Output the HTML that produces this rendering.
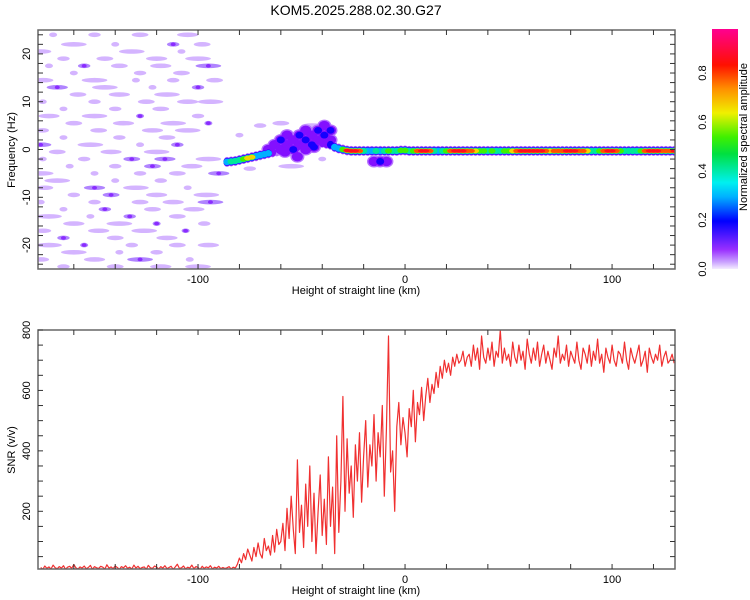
<!DOCTYPE html>
<html><head><meta charset="utf-8"><style>
html,body{margin:0;padding:0;background:#fff;}
svg{display:block;font-family:"Liberation Sans",sans-serif;}
</style></head><body>
<svg id="c" width="750" height="600">
<defs>
<clipPath id="cp1"><rect x="38" y="30" width="637" height="239"/></clipPath>
<clipPath id="cp2"><rect x="38" y="330" width="637" height="239"/></clipPath>
<linearGradient id="cbg" x1="0" y1="1" x2="0" y2="0">
<stop offset="0" stop-color="#f4ecff"/><stop offset="0.03" stop-color="#c9a0ff"/>
<stop offset="0.08" stop-color="#9a30ff"/><stop offset="0.2" stop-color="#0000ff"/>
<stop offset="0.3" stop-color="#00b0ff"/><stop offset="0.36" stop-color="#00f0f0"/>
<stop offset="0.48" stop-color="#00e040"/><stop offset="0.55" stop-color="#40f000"/>
<stop offset="0.65" stop-color="#f0f000"/><stop offset="0.75" stop-color="#ff9000"/>
<stop offset="0.85" stop-color="#ff1000"/><stop offset="1" stop-color="#ff0090"/>
</linearGradient>
</defs>
<text x="356" y="15" font-size="14" text-anchor="middle">KOM5.2025.288.02.30.G27</text>
<g id="topPanel"></g>
<g id="botPanel"></g>
<g id="cbarPanel"></g>
</svg>
<script>
// ---- data ----
const xMin = -177.3, xMax = 130.4;
const hzMin = -25, hzMax = 25;
const snrMin = 9, snrMax = 800;
const xTickLabels = [-100, 0, 100];
const hzTickLabels = [-20, -10, 0, 10, 20];
const snrTickLabels = [200, 400, 600, 800];
const cbTickLabels = [0.0, 0.2, 0.4, 0.6, 0.8];

const snrStartKm = -176, snrStepKm = 1;
const snrValues = [
14,8,19,11,16,9,22,13,10,17,12,20,8,15,18,11,24,13,9,16,12,19,10,14,21,8,17,13,11,18,
15,9,23,12,16,10,19,14,8,17,13,20,11,15,9,22,12,18,10,14,16,8,21,13,11,19,15,9,17,12,
20,10,14,18,8,16,25,11,13,19,9,15,12,22,10,17,14,8,18,11,16,13,20,9,15,12,18,10,14,11,
13,17,9,15,12,
25,45,30,60,40,75,55,35,80,50,95,60,45,110,70,85,55,120,65,140,90,100,
160,70,210,110,250,140,60,370,130,220,80,290,150,350,100,260,60,200,320,120,240,90,380,150,280,60,450,130,300,580,
200,440,260,350,180,420,300,460,230,380,500,280,420,350,520,300,460,380,550,250,470,780,330,400,200,480,560,420,510,
460,380,540,480,600,430,560,520,610,500,580,640,560,620,590,660,610,680,640,700,660,690,650,710,680,720,690,700,730,680,710,
720,680,750,700,740,670,780,710,690,740,
700,760,680,730,710,800,690,740,700,720,
680,760,710,690,750,700,730,670,770,720,
690,740,700,760,680,720,750,690,730,700,
670,740,710,780,690,720,700,750,680,730,
710,690,760,700,670,740,720,690,750,680,
730,700,770,690,720,660,740,710,690,750,
700,680,730,720,690,760,700,670,740,710,
690,720,750,680,700,730,660,740,710,690,
720,700,750,680,710,730,690,700,720,690
];

const trackStartKm = -86, trackStepKm = 2;
const trackHz = [
-2.6,-2.5,-2.4,-2.2,-2.0,-1.8,-1.6,-1.4,-1.2,-1.0,-0.8,
-0.6,-0.4,-0.2,0,0.2,0.4,0.6,0.8,1,1.2,1.4,1.6,1.4,1.2,1,
0.5,0.2,0,-0.2,
-0.3,-0.3,-0.3,-0.3,-0.3,-0.3,-0.3,-0.3,-0.3,-0.3,-0.3,-0.3,-0.2,-0.2,
-0.3,-0.3,-0.3,-0.3,-0.3,-0.3,-0.3,-0.3,-0.3,-0.3,
-0.3,-0.3,-0.3,-0.3,-0.3,-0.3,-0.3,-0.3,-0.3,-0.3,
-0.3,-0.3,-0.3,-0.3,-0.3,-0.3,-0.3,-0.3,-0.3,-0.3,
-0.3,-0.3,-0.3,-0.3,-0.3,-0.3,-0.3,-0.3,-0.3,-0.3,
-0.3,-0.3,-0.3,-0.3,-0.3,-0.3,-0.3,-0.3,-0.3,-0.3,
-0.3,-0.3,-0.3,-0.3,-0.3,-0.3,-0.3,-0.3,-0.3,-0.3,
-0.3,-0.3,-0.3,-0.3,-0.3
];
const trackAmp = [
0.35,0.45,0.5,0.45,0.55,0.75,0.7,0.4,0.3,0.35,0.3,
0.12,0.1,0.12,0.1,0.12,0.1,0.12,0.1,0.12,0.1,0.12,0.1,0.12,0.15,0.2,
0.35,0.4,0.6,0.9,
0.9,0.9,0.85,0.5,0.35,0.4,0.5,0.4,0.45,0.55,0.45,0.5,0.65,0.55,
0.5,0.6,0.85,0.9,0.9,0.85,0.5,0.4,0.45,0.6,
0.85,0.9,0.9,0.9,0.85,0.85,0.7,0.55,0.65,0.5,
0.6,0.45,0.5,0.55,0.6,0.75,0.85,0.9,0.9,0.9,
0.9,0.9,0.88,0.85,0.75,0.8,0.85,0.85,0.9,0.9,
0.88,0.85,0.8,0.7,0.5,0.45,0.6,0.8,0.88,0.9,
0.85,0.6,0.5,0.45,0.5,0.45,0.6,0.85,0.9,0.9,
0.88,0.85,0.8,0.85,0.9
];

const noiseKm = [
-170,-150,-128,-105, -160,-140,-112,-98, -176,-132,-108, -165,-145,-120,-100,
-172,-155,-138,-118,-95, -160,-128,-108, -175,-150,-130,-112,-92, -168,-145,-122,-100,
-158,-138,-115, -175,-150,-125,-105,-94, -165,-140,-118, -172,-150,-128,-100,
-160,-136,-112,-95, -175,-148,-122,-105, -165,-138,-115, -176,-152,-128,-110,
-168,-142,-120, -175,-155,-132,-116,-95, -162,-140,-122,-103, -176,-150,-128,-110,-90,
-168,-140,-118, -174,-150,-130,-105, -160,-142,-120,-96, -176,-150,-128,-112,-94,
-165,-145,-122,-102, -172,-152,-133,-110, -160,-138,-120,-97, -175,-148,-126,-106,
-165,-140,-115, -172,-155,-132,-110,-95, -160,-138,-120, -176,-150,-128,-104, -165,-140,-118,-100,
-80,-70,-60,-45,-55,-40,-75
];
const noiseHz = [
24,24,24,24, 22,22,22,22, 20.5,20.5,20.5, 19,19,19,19,
17.5,17.5,17.5,17.5,17.5, 16,16,16, 14.5,14.5,14.5,14.5,14.5, 13,13,13,13,
11.5,11.5,11.5, 10,10,10,10,10, 8.5,8.5,8.5, 7,7,7,7,
5.5,5.5,5.5,5.5, 4,4,4,4, 2.5,2.5,2.5, 1,1,1,1,
-0.5,-0.5,-0.5, -2,-2,-2,-2,-2, -3.5,-3.5,-3.5,-3.5, -5,-5,-5,-5,-5,
-6.5,-6.5,-6.5, -8,-8,-8,-8, -9.5,-9.5,-9.5,-9.5, -11,-11,-11,-11,-11,
-12.5,-12.5,-12.5,-12.5, -14,-14,-14,-14, -15.5,-15.5,-15.5,-15.5, -17,-17,-17,-17,
-18.5,-18.5,-18.5, -20,-20,-20,-20,-20, -21.5,-21.5,-21.5, -23,-23,-23,-23, -24.5,-24.5,-24.5,-24.5,
3,5,5.5,5,-3.5,-2,-4
];
const noiseAmp = [
0.05,0.05,0.05,0.05, 0.05,0.05,0.12,0.05, 0.05,0.05,0.05, 0.05,0.05,0.05,0.05,
0.05,0.12,0.05,0.05,0.12, 0.05,0.05,0.05, 0.05,0.05,0.05,0.05,0.05, 0.12,0.05,0.05,0.12,
0.05,0.05,0.05, 0.05,0.05,0.05,0.05,0.05, 0.05,0.05,0.05, 0.05,0.05,0.12,0.05,
0.05,0.05,0.05,0.12, 0.05,0.05,0.05,0.05, 0.05,0.05,0.05, 0.12,0.05,0.05,0.12,
0.05,0.05,0.05, 0.05,0.05,0.12,0.12,0.05, 0.05,0.05,0.12,0.05, 0.05,0.05,0.05,0.05,0.12,
0.05,0.05,0.05, 0.05,0.12,0.05,0.05, 0.05,0.12,0.05,0.05, 0.05,0.05,0.05,0.05,0.12,
0.05,0.12,0.05,0.05, 0.05,0.05,0.12,0.05, 0.05,0.05,0.12,0.05, 0.05,0.05,0.05,0.12,
0.12,0.05,0.05, 0.05,0.12,0.05,0.05,0.05, 0.05,0.05,0.05, 0.05,0.05,0.12,0.05, 0.05,0.05,0.05,0.05,
0.05,0.05,0.05,0.05,0.05,0.05,0.05
];

const blobKm = [-66,-63,-60,-60,-57,-57,-54,-54,-51,-51,-48,-48,-48,-45,-45,-42,-42,-39,-39,-36,-36,-52,-12,-15,-9,-44,-58];
const blobHz = [0,1,0,2,1,3,0,2,1,3,0,2,4,1,3,2,4,3,5,4,2,-1.5,-2.5,-2.5,-2.5,0.5,-0.5];
const blobAmp = [0.12,0.14,0.14,0.22,0.14,0.14,0.22,0.14,0.14,0.2,0.14,0.22,0.14,0.2,0.14,0.14,0.22,0.2,0.12,0.22,0.14,0.12,0.22,0.18,0.18,0.2,0.14];

// ---- helpers ----
const NS = 'http://www.w3.org/2000/svg';
const L = 38, R = 675, T1 = 30, B1 = 269, T2 = 330, B2 = 569;
const xS = km => L + (km - xMin) / (xMax - xMin) * (R - L);
const yHz = hz => T1 + (hzMax - hz) / (hzMax - hzMin) * (B1 - T1);
const ySnr = v => B2 - (v - snrMin) / (snrMax - snrMin) * (B2 - T2);
function mk(tag, attrs, parent) {
  const e = document.createElementNS(NS, tag);
  for (const k in attrs) e.setAttribute(k, attrs[k]);
  parent.appendChild(e);
  return e;
}
const stops = [[0,[244,236,255]],[0.03,[201,160,255]],[0.08,[154,48,255]],[0.14,[120,0,255]],[0.2,[20,0,255]],[0.3,[0,176,255]],[0.36,[0,240,240]],[0.48,[0,224,64]],[0.55,[64,240,0]],[0.65,[240,240,0]],[0.75,[255,144,0]],[0.85,[255,16,0]],[1,[255,0,144]]];
function cmap(v) {
  for (let i = 1; i < stops.length; i++) {
    if (v <= stops[i][0]) {
      const a = stops[i-1], b = stops[i], t = (v - a[0]) / (b[0] - a[0]);
      const c = a[1].map((x, j) => Math.round(x + (b[1][j] - x) * t));
      return `rgb(${c[0]},${c[1]},${c[2]})`;
    }
  }
  return 'rgb(255,0,144)';
}

const gTop = document.getElementById('topPanel');
const gBot = document.getElementById('botPanel');
const gCbar = document.getElementById('cbarPanel');

// ---- spectrogram ----
const g1 = mk('g', {'clip-path': 'url(#cp1)'}, gTop);
noiseKm.forEach((km, i) => {
  const el = mk('ellipse', {cx: xS(km), cy: yHz(noiseHz[i]), rx: 4 + (i % 5) * 2.2, ry: 2.3, fill: noiseAmp[i] > 0.1 ? '#b084ff' : '#d4b4ff'}, g1);
  
  
  if (noiseAmp[i] > 0.1) {
    const d = mk('ellipse', {cx: xS(km), cy: yHz(noiseHz[i]), rx: 2.5, ry: 1.8, fill: '#8a2cff'}, g1);
    
    
  }
});
const levels = [0.05, 0.12, 0.2, 0.3, 0.42, 0.55, 0.68, 0.8, 0.88];
const rys = [5, 4.3, 3.8, 3.3, 2.9, 2.6, 2.3, 2.0, 1.7];
levels.forEach((lv, li) => {
  blobKm.forEach((km, i) => {
    if (blobAmp[i] >= lv) {
      const el = mk('ellipse', {cx: xS(km), cy: yHz(blobHz[i]), rx: 7 - li * 1.5, ry: 6 - li * 1.3, fill: cmap(lv)}, g1);
      
      
    }
  });
  trackHz.forEach((hz, i) => {
    if (trackAmp[i] >= lv) {
      const km = trackStartKm + i * trackStepKm;
      const el = mk('ellipse', {cx: xS(km), cy: yHz(hz), rx: 3.6, ry: rys[li], fill: cmap(lv)}, g1);
      
      
    }
  });
});

function frame(parent, T, B, name) {
  const r = mk('rect', {x: L, y: T, width: R - L, height: B - T, fill: 'none', stroke: '#666', 'stroke-width': 1.5}, parent);
  
  
  for (let km = -160; km <= 120; km += 20) {
    const x = xS(km);
    mk('line', {x1: x, x2: x, y1: T, y2: T + 5, stroke: '#333'}, parent);
    mk('line', {x1: x, x2: x, y1: B, y2: B - 5, stroke: '#333'}, parent);
  }
  xTickLabels.forEach(v => {
    const t = mk('text', {x: xS(v), y: B + 14, 'font-size': 11, 'text-anchor': 'middle'}, parent);
    t.textContent = v;
    
    
  });
  const xt = mk('text', {x: 356, y: B + 25, 'font-size': 11, 'text-anchor': 'middle'}, parent);
  xt.textContent = 'Height of straight line (km)';
  
  
}
frame(gTop, T1, B1, 'spectrogram-frame');
for (let hz = -24; hz <= 24; hz += 2) {
  const y = yHz(hz);
  mk('line', {x1: L, x2: L + 5, y1: y, y2: y, stroke: '#333'}, gTop);
  mk('line', {x1: R, x2: R - 5, y1: y, y2: y, stroke: '#333'}, gTop);
}
hzTickLabels.forEach(v => {
  const y = yHz(v);
  const t = mk('text', {x: 0, y: 0, 'font-size': 11, 'text-anchor': 'middle', transform: `translate(30,${y}) rotate(-90)`}, gTop);
  t.textContent = v;
  
  
});
const yt1 = mk('text', {x: 0, y: 0, 'font-size': 11, 'text-anchor': 'middle', transform: `translate(15,150) rotate(-90)`}, gTop);
yt1.textContent = 'Frequency (Hz)';



// ---- SNR ----
const g2 = mk('g', {'clip-path': 'url(#cp2)'}, gBot);
const pts = snrValues.map((v, i) => `${xS(snrStartKm + i * snrStepKm).toFixed(1)},${ySnr(v).toFixed(1)}`).join(' ');
const line = mk('polyline', {points: pts, fill: 'none', stroke: '#f03030', 'stroke-width': 1.2, 'stroke-linejoin': 'round'}, g2);


frame(gBot, T2, B2, 'snr-frame');
for (let v = 50; v <= 800; v += 50) {
  const y = ySnr(v);
  mk('line', {x1: L, x2: L + 5, y1: y, y2: y, stroke: '#333'}, gBot);
  mk('line', {x1: R, x2: R - 5, y1: y, y2: y, stroke: '#333'}, gBot);
}
snrTickLabels.forEach(v => {
  const y = ySnr(v);
  const t = mk('text', {x: 0, y: 0, 'font-size': 11, 'text-anchor': 'middle', transform: `translate(30,${y}) rotate(-90)`}, gBot);
  t.textContent = v;
  
  
});
const yt2 = mk('text', {x: 0, y: 0, 'font-size': 11, 'text-anchor': 'middle', transform: `translate(15,450) rotate(-90)`}, gBot);
yt2.textContent = 'SNR (v/v)';



// ---- colorbar ----
const cbT = 29, cbB = 269;
const cbr = mk('rect', {x: 712, y: cbT, width: 26, height: cbB - cbT, fill: 'url(#cbg)'}, gCbar);


cbTickLabels.forEach(v => {
  const y = cbB - v * (cbB - cbT) / 0.98;
  const t = mk('text', {x: 0, y: 0, 'font-size': 11, 'text-anchor': 'middle', transform: `translate(706,${y}) rotate(-90)`}, gCbar);
  t.textContent = v.toFixed(1);
  
  
});
const ct = mk('text', {x: 0, y: 0, 'font-size': 11, 'text-anchor': 'middle', transform: `translate(747,137) rotate(-90)`}, gCbar);
ct.textContent = 'Normalized spectral amplitude';


</script>
</body></html>
